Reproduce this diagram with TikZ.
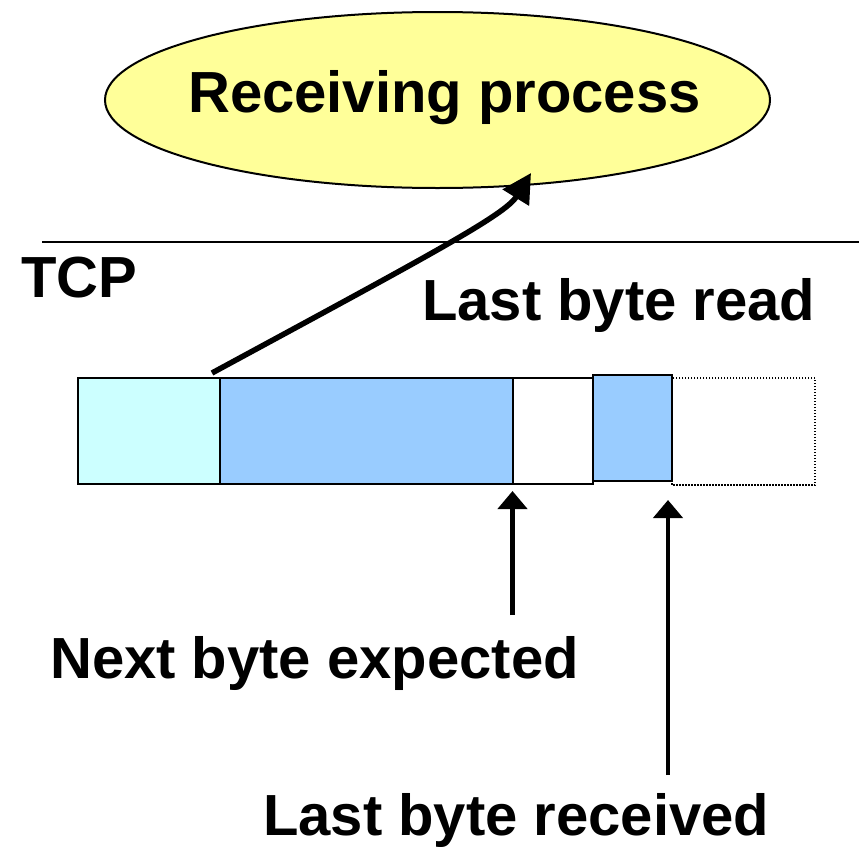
\documentclass[tikz,border=0pt]{standalone}
\usepackage{fontspec}
\setmainfont{Liberation Sans}
\usepackage{xcolor}
\usepackage{tikz}
\usetikzlibrary{shapes.geometric,arrows.meta}

\definecolor{procyellow}{HTML}{FFFF99}
\definecolor{readcyan}{HTML}{CCFFFF}
\definecolor{bufblue}{HTML}{99CCFF}

\tikzset{
  bigtext/.style={font=\fontsize{58}{60}\selectfont\bfseries, inner sep=0pt},
  procell/.style={ellipse, draw, line width=2pt, fill=procyellow,
    minimum width=665pt, minimum height=176pt, inner sep=0pt},
  bufbox/.style={draw, line width=2.5pt},
  freebox/.style={draw, line width=1.5pt, dash pattern=on 1.5pt off 1.5pt},
  uparrow/.style={line width=4.5pt, -{Triangle[length=18pt,width=29pt]}},
  readarrow/.style={line width=5.5pt, -{Triangle[length=29pt,width=30pt]}}
}

\begin{document}
\begin{tikzpicture}[x=1pt,y=-1pt]
\useasboundingbox (0,0) rectangle (859,846);

\node[procell] (proc) at (437.5,100) {};
\node[bigtext, anchor=base west] (proctext) at (188,112) {Receiving process};

\draw[line width=2pt] (42,242)--(859,242);

\node[bigtext, anchor=base west] (tcp) at (21,297) {TCP};
\node[bigtext, anchor=base west] (lastread) at (422,320) {Last byte read};

\draw[freebox] (672,378) rectangle (815,485);
\draw[bufbox, fill=readcyan] (78,378) rectangle (220,484);
\draw[bufbox, fill=bufblue]  (220,378) rectangle (513,484);
\draw[bufbox, fill=white]    (513,378) rectangle (593,484);
\draw[bufbox, fill=bufblue]  (593,375) rectangle (672,481);

\coordinate (readfrom) at (212,373);
\coordinate (readto) at (531,173);
\draw[readarrow] (readfrom) .. controls (430,255) and (505,215) .. (readto);

\node[bigtext, anchor=base west] (nextexp) at (50,678) {Next byte expected};
\node[bigtext, anchor=base west] (lastrecv) at (263,835) {Last byte received};

\coordinate (nextfrom) at (512.5,615);
\coordinate (nextto) at (512.5,491);
\coordinate (recvfrom) at (668,775);
\coordinate (recvto) at (668,500);
\draw[uparrow] (nextfrom)--(nextto);
\draw[uparrow] (recvfrom)--(recvto);

\end{tikzpicture}
\end{document}
